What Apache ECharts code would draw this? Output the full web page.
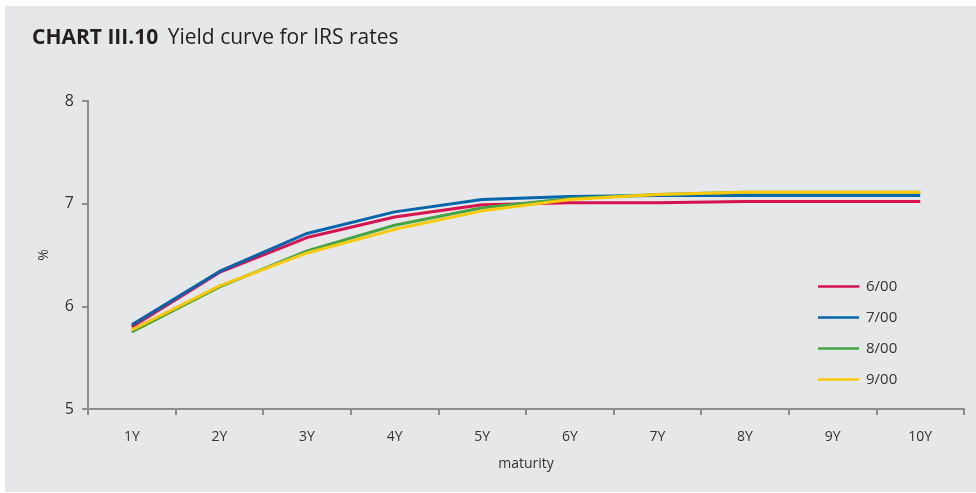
<!DOCTYPE html>
<html><head><meta charset="utf-8">
<script src="https://cdn.jsdelivr.net/npm/echarts@6/dist/echarts.min.js"></script>
<style>html,body{margin:0;padding:0;background:#fff}#c{width:976px;height:493px}</style>
</head><body><div id="c"></div>
<script>
const categories = ['1Y','2Y','3Y','4Y','5Y','6Y','7Y','8Y','9Y','10Y'];
const seriesNames = ['6/00','7/00','8/00','9/00'];
const s600 = [5.80, 6.33, 6.67, 6.87, 6.99, 7.01, 7.01, 7.02, 7.02, 7.02];
const s700 = [5.82, 6.34, 6.71, 6.92, 7.04, 7.07, 7.08, 7.08, 7.08, 7.08];
const s800 = [5.75, 6.19, 6.54, 6.79, 6.96, 7.05, 7.09, 7.11, 7.11, 7.11];
const s900 = [5.77, 6.20, 6.52, 6.75, 6.93, 7.04, 7.09, 7.11, 7.11, 7.11];
const yTicks = [5, 6, 7, 8];
const colors = ['#d6124f', '#0066ad', '#46a543', '#fcc80a'];
const values = [s600, s700, s800, s900];

const chart = echarts.init(document.getElementById('c'));
const FONT = 'Open Sans';
chart.setOption({
  animation: false,
  backgroundColor: '#ffffff',
  graphic: [{
    type: 'rect', left: 5, top: 6, shape: { width: 971, height: 486 },
    style: { fill: '#e6e7e8' }, z: -10
  }, {
    type: 'text', left: 32, top: 28,
    style: {
      text: '{b|CHART III.10}{r| Yield curve for IRS rates}',
      rich: {
        b: { fontFamily: FONT, fontWeight: 'bold', fontSize: 21, fill: '#231f20' },
        r: { fontFamily: FONT, fontSize: 21, fill: '#231f20', padding: [0,0,0,4] }
      }
    }
  }],
  grid: { left: 88, right: 12, top: 101, bottom: 84, containLabel: false },
  legend: {
    orient: 'vertical', left: 813, top: 274, itemGap: 16,
    itemWidth: 41, itemHeight: 15,
    icon: 'path://M0,8 L41,8 L41,10.5 L0,10.5 Z',
    textStyle: { fontFamily: FONT, fontSize: 15, color: '#333333', padding: [0,0,0,2] },
    data: seriesNames
  },
  xAxis: {
    type: 'category', data: categories, boundaryGap: true,
    name: 'maturity', nameLocation: 'middle', nameGap: 48,
    nameTextStyle: { fontFamily: FONT, fontSize: 14, color: '#333333' },
    axisLine: { lineStyle: { color: '#8c8c8c', width: 2 } },
    axisTick: { show: true, length: 6, alignWithLabel: false, lineStyle: { color: '#8c8c8c', width: 2 } },
    axisLabel: { fontFamily: FONT, fontSize: 14, color: '#333333', margin: 21 },
    splitLine: { show: false }
  },
  yAxis: {
    type: 'value', min: yTicks[0], max: yTicks[yTicks.length-1], interval: 1,
    name: '%', nameLocation: 'middle', nameGap: 37, nameRotate: 90,
    nameTextStyle: { fontFamily: FONT, fontSize: 14, color: '#333333' },
    axisLine: { show: true, lineStyle: { color: '#8c8c8c', width: 2 } },
    axisTick: { show: true, length: 6, lineStyle: { color: '#8c8c8c', width: 2 } },
    axisLabel: { fontFamily: FONT, fontSize: 16, color: '#333333', margin: 14 },
    splitLine: { show: false }
  },
  series: seriesNames.map((n, i) => ({
    name: n, type: 'line', data: values[i], symbol: 'none',
    lineStyle: { color: colors[i], width: 3 }, itemStyle: { color: colors[i] },
    z: 2 + i
  }))
});
</script></body></html>
